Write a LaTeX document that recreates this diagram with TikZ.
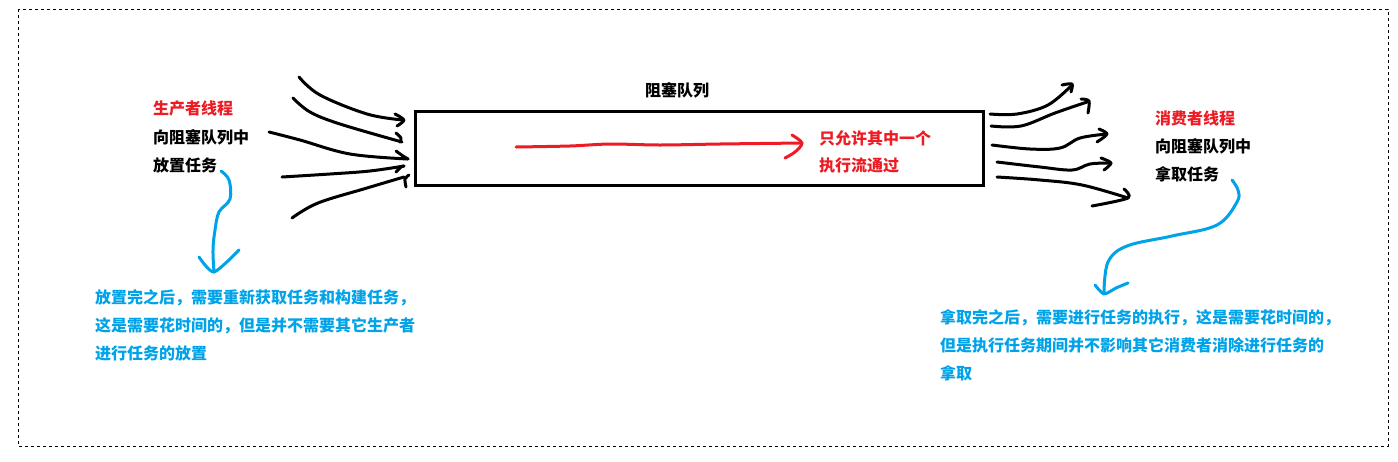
\documentclass[tikz,border=0pt]{standalone}
\usepackage{fontspec}
\newfontfamily\cjk{Noto Sans CJK SC}
\usetikzlibrary{calc}
\definecolor{pred}{RGB}{237,28,36}
\definecolor{pblue}{RGB}{0,162,232}
\tikzset{
  txt/.style={anchor=west,inner sep=0pt,font=\cjk\bfseries\fontsize{16}{18}\selectfont,text height=14pt,text depth=2pt},
  ink/.style={line width=3pt,line cap=round,line join=round},
  blk/.style={ink,draw=black},
  blu/.style={ink,draw=pblue},
  rd/.style={ink,draw=pred},
}
\begin{document}
\begin{tikzpicture}[x=1pt,y=-1pt]
\useasboundingbox (0,0) rectangle (1398,461);
\draw[line width=1pt,dash pattern=on 3pt off 3pt] (18,9) rectangle (1388,446);

% queue
\node[draw,line width=3pt,minimum width=568pt,minimum height=74pt,inner sep=0pt] (queue) at (699,148) {};
\node[txt,anchor=center,text=black] (qlabel) at (677,90) {阻塞队列};

% producer text
\node[txt,text=pred] (p1) at (153,108) {生产者线程};
\node[txt] (p2) at (153,137) {向阻塞队列中};
\node[txt] (p3) at (153,165) {放置任务};

% consumer text
\node[txt,text=pred] (c1) at (1155,118) {消费者线程};
\node[txt] (c2) at (1155,146) {向阻塞队列中};
\node[txt] (c3) at (1155,174) {拿取任务};

% red note
\node[txt,text=pred] (r1) at (819,138.5) {只允许其中一个};
\node[txt,text=pred] (r2) at (819,165) {执行流通过};

% blue notes
\node[txt,text=pblue] (b1) at (95,297) {放置完之后，需要重新获取任务和构建任务，};
\node[txt,text=pblue] (b2) at (95,325) {这是需要花时间的，但是并不需要其它生产者};
\node[txt,text=pblue] (b3) at (95,353) {进行任务的放置};
\node[txt,text=pblue] (d1) at (940,317) {拿取完之后，需要进行任务的执行，这是需要花时间的，};
\node[txt,text=pblue] (d2) at (940,345) {但是执行任务期间并不影响其它消费者消除进行任务的};
\node[txt,text=pblue] (d3) at (940,373) {拿取};

% red arrow
\draw[rd] plot[smooth,tension=0.5] coordinates {(516,147) (570,146) (610,144) (660,145) (720,144) (802,143)};
\draw[rd] plot[smooth,tension=0.5] coordinates {(792,135) (802,143) (795,152) (785,158)};

% left black arrows (into queue)
\draw[blk] plot[smooth,tension=0.6] coordinates {(299,77) (320,95) (367,114) (403,120)};
\draw[blk] plot[smooth,tension=0.5] coordinates {(395,114) (404,120) (397,126)};
\draw[blk] plot[smooth,tension=0.6] coordinates {(293,98) (310,112) (340,124) (402,142)};
\draw[blk] plot[smooth,tension=0.5] coordinates {(396,133) (401,138) (400,142)};
\draw[blk] plot[smooth,tension=0.6] coordinates {(269,132) (300,140) (350,154) (408,159)};
\draw[blk] plot[smooth,tension=0.5] coordinates {(396,151) (403,156) (408,159)};
\draw[blk] plot[smooth,tension=0.6] coordinates {(282,177) (330,174) (370,171) (404,166)};
\draw[blk] plot[smooth,tension=0.5] coordinates {(396,172) (401,167) (404,166)};
\draw[blk] plot[smooth,tension=0.6] coordinates {(292,218) (318,203) (367,188) (404,177)};
\draw[blk] plot[smooth,tension=0.5] coordinates {(406,187) (405,179) (409,175)};

% right black arrows (out of queue)
\draw[blk] plot[smooth,tension=0.6] coordinates {(990,114) (1017,114) (1048,105) (1072,85)};
\draw[blk] plot[smooth,tension=0.5] coordinates {(1062,85) (1072,84) (1071,92)};
\draw[blk] plot[smooth,tension=0.6] coordinates {(991,126) (1021,126) (1055,113) (1087,102)};
\draw[blk] plot[smooth,tension=0.5] coordinates {(1081,99) (1089,101) (1088,113)};
\draw[blk] plot[smooth,tension=0.6] coordinates {(992,145) (1030,149) (1060,148) (1080,138) (1107,134)};
\draw[blk] plot[smooth,tension=0.5] coordinates {(1099,129) (1107,134) (1097,142)};
\draw[blk] plot[smooth,tension=0.6] coordinates {(997,162) (1040,167) (1072,170) (1090,164) (1111,163)};
\draw[blk] plot[smooth,tension=0.5] coordinates {(1101,158) (1111,163) (1104,170)};
\draw[blk] plot[smooth,tension=0.6] coordinates {(997,177) (1040,180) (1082,185) (1128,198)};
\draw[blk] plot[smooth,tension=0.5] coordinates {(1124,189) (1128,198) (1092,206)};

% blue arrows
\draw[blu] plot[smooth,tension=0.6] coordinates {(221,171) (229,180) (230,199) (219,212) (215,230) (213,250) (214,272)};
\draw[blu] plot[smooth,tension=0.4] coordinates {(199,257) (214,272) (239,250)};
\draw[blu] plot[smooth,tension=0.6] coordinates {(1232,180) (1238,190) (1237,202) (1217,225) (1172,236) (1127,246) (1108,262) (1104,293)};
\draw[blu] plot[smooth,tension=0.4] coordinates {(1095,285) (1104,294) (1116,288) (1128,283)};
\end{tikzpicture}
\end{document}
